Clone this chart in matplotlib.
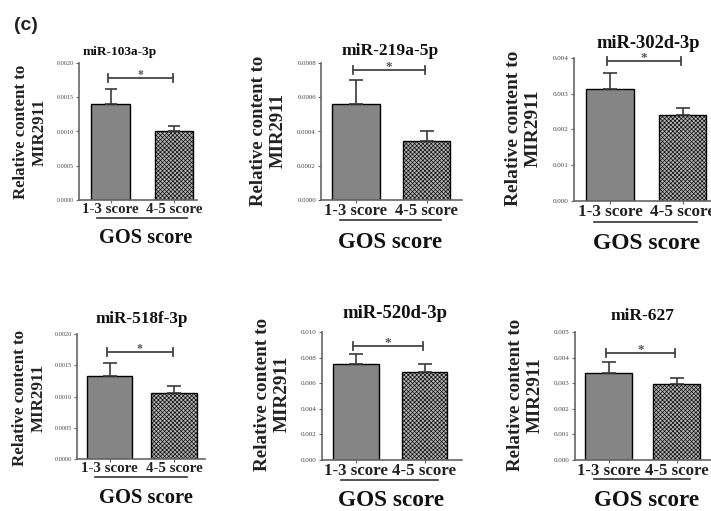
import matplotlib
matplotlib.use("Agg")
import matplotlib.pyplot as plt
import numpy as np

# ---------------- data ----------------
titles = ['miR-103a-3p', 'miR-219a-5p', 'miR-302d-3p',
          'miR-518f-3p', 'miR-520d-3p', 'miR-627']
groups = ['1-3 score', '4-5 score']
mean_13 = [0.00140, 0.00056, 0.00313, 0.00133, 0.0075, 0.0034]
sem_13 = [0.00022, 0.00014, 0.00045, 0.00021, 0.00078, 0.00043]
mean_45 = [0.00101, 0.000345, 0.0024, 0.00106, 0.00688, 0.00297]
sem_45 = [0.00007, 0.000058, 0.0002, 0.00011, 0.00062, 0.00023]
ymax = [0.0020, 0.0008, 0.004, 0.0020, 0.010, 0.005]
ystep = [0.0005, 0.0002, 0.001, 0.0005, 0.002, 0.001]
ydec = [4, 4, 3, 4, 3, 3]
sig_y = [0.00178, 0.00076, 0.00392, 0.00171, 0.0089, 0.00418]
ylabel_text = 'Relative content to\nMIR2911'
xlabel_text = 'GOS score'

# ---------------- layout (pixels) ----------------
W, H = 711, 511
# first bar centre x, bar spacing, axes top, axes bottom
c1 = [110.5, 356, 610, 109.5, 356, 608.5]
sp = [63.5, 70.5, 72.5, 64.5, 68.5, 68]
top = [63, 63, 58, 334, 332, 332]
bot = [200, 200, 201, 459, 460, 460]
xr = [1.36, 1.5, 1.6, 1.48, 1.55, 1.65]
bw = [0.61, 0.68, 0.66, 0.70, 0.67, 0.69]
fsc = [0.93, 1.04, 1.07, 0.94, 1.06, 1.05]
title_pos = [(120, 52), (390, 51), (648, 44), (142, 319), (395, 314), (642, 316)]
title_fs = [9.6, 12.6, 13.3, 12.3, 13.5, 12.5]
ylab_pos = [(30, 132), (268, 131), (523, 128), (29, 398), (272, 394), (525, 395)]
gos_pos = [(145.5, 238), (390, 242), (647, 243), (146, 498), (391, 500), (647, 500)]

SERIF = ['Liberation Serif', 'DejaVu Serif']
plt.rcParams['font.family'] = SERIF
plt.rcParams['hatch.linewidth'] = 0.45
plt.rcParams['hatch.color'] = '#777777'

fig = plt.figure(figsize=(W / 100, H / 100), dpi=100)
fig.patch.set_facecolor('white')

spine_c = '#666666'
for i in range(6):
    left = c1[i] - 0.5 * sp[i]
    width = (xr[i] + 0.5) * sp[i]
    hpx = bot[i] - top[i]
    ax = fig.add_axes([left / W, 1 - bot[i] / H, width / W, hpx / H])
    ax.set_xlim(-0.5, xr[i])
    ax.set_ylim(0, ymax[i])
    f = fsc[i]
    x = np.arange(2)
    ax.bar(0, mean_13[i], width=bw[i], color='#858585', edgecolor='black', linewidth=1.0, zorder=2)
    ax.bar(1, mean_45[i], width=bw[i], color='#b2b2b2', edgecolor='black', linewidth=1.0,
           hatch='xxxxxxxx', zorder=2)
    ax.errorbar(x, [mean_13[i], mean_45[i]],
                yerr=[[0, 0], [sem_13[i], sem_45[i]]],
                fmt='none', ecolor='#3a3a3a', elinewidth=1.2, capsize=5 * f, capthick=1.2, zorder=3)
    # significance bracket
    bx0, bx1 = -0.04, 0.98
    ax.plot([bx0, bx1], [sig_y[i], sig_y[i]], color='#444444', lw=1.3, clip_on=False, zorder=4)
    dt = ymax[i] * 0.03
    for bx in (bx0, bx1):
        ax.plot([bx, bx], [sig_y[i] - dt, sig_y[i] + dt], color='#444444', lw=1.3, clip_on=False, zorder=4)
    ax.text((bx0 + bx1) / 2, sig_y[i] + 3.0 / hpx * ymax[i], '*', ha='center', va='center',
            fontsize=9 * f, color='#555555', fontweight='bold')
    # spines
    for s in ('top', 'right'):
        ax.spines[s].set_visible(False)
    for s in ('left', 'bottom'):
        ax.spines[s].set_color(spine_c)
        ax.spines[s].set_linewidth(1.2)
    ax.set_facecolor('none')
    yt = np.arange(0, ymax[i] + ystep[i] / 2, ystep[i])
    ax.set_yticks(yt)
    ax.set_yticklabels([f'{v:.{ydec[i]}f}' for v in yt], fontsize=4.8 * f, color='#444444')
    ax.tick_params(axis='y', length=2.5, width=0.8, color=spine_c, pad=1)
    ax.set_xticks(x)
    ax.set_xticklabels(groups, fontsize=11.5 * f, fontweight='bold', color='#222222')
    ax.tick_params(axis='x', length=2.5, width=0.8, color=spine_c, pad=0)
    # underline beneath the group labels
    uy = -0.285 * sp[i] / hpx * ymax[i]
    ax.plot([-0.22, 1.2], [uy, uy], color='#333333', lw=1.2, clip_on=False)
    # texts
    tx, ty = title_pos[i]
    fig.text(tx / W, 1 - ty / H, titles[i], ha='center', va='center',
             fontsize=title_fs[i], fontweight='bold', color='#111111')
    lx, ly = ylab_pos[i]
    fig.text(lx / W, 1 - ly / H, ylabel_text, ha='center', va='center', rotation=90,
             fontsize=13.0 * f, fontweight='bold', color='#222222', linespacing=1.2,
             multialignment='center')
    gx, gy = gos_pos[i]
    fig.text(gx / W, 1 - gy / H, xlabel_text, ha='center', va='center',
             fontsize=15.8 * f, fontweight='bold', color='#111111')

fig.text(14 / W, 1 - 26 / H, '(c)', ha='left', va='center', fontsize=14,
         fontweight='bold', family=['Liberation Sans', 'DejaVu Sans'], color='#222222')

fig.savefig('out.png', dpi=100)
